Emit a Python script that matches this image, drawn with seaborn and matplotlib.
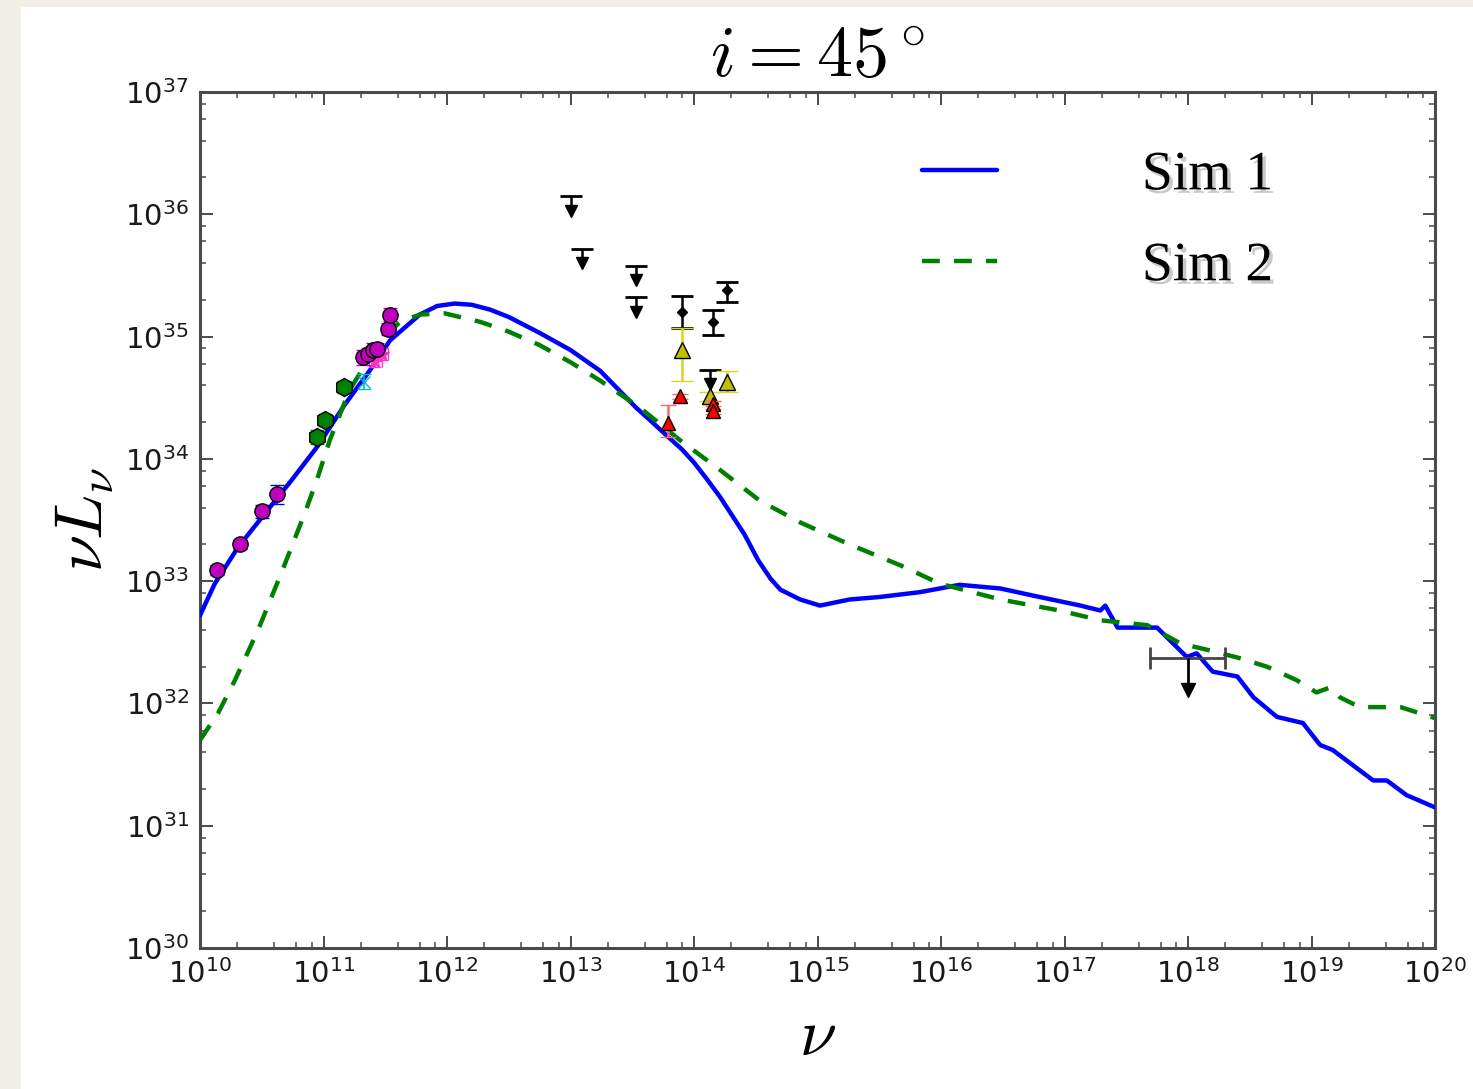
import numpy as np
import pandas as pd
import matplotlib
matplotlib.use("Agg")
import matplotlib.pyplot as plt
import matplotlib.patheffects as pe
from matplotlib.patches import Rectangle
from matplotlib.ticker import LogLocator, NullFormatter
import seaborn as sns

# ---------------- data (log10 values) ----------------
sim1_lognu = [10.0, 10.12, 10.31, 10.50, 10.745, 10.95, 11.17, 11.38, 11.54, 11.78,
              11.92, 12.06, 12.2, 12.35, 12.5, 12.75, 13.0, 13.24, 13.53, 13.64, 13.79,
              13.9, 14.0, 14.1, 14.21, 14.41, 14.52, 14.62, 14.7, 14.86,
              15.02, 15.26, 15.5, 15.83, 16.15, 16.48, 16.8, 17.13, 17.29, 17.33,
              17.43, 17.75, 17.99, 18.07, 18.20, 18.40, 18.53, 18.72, 18.93, 19.07,
              19.17, 19.50, 19.61, 19.77, 20.0]
sim1_logL = [32.72, 32.98, 33.28, 33.52, 33.83, 34.10, 34.44, 34.73, 34.97, 35.18,
             35.25, 35.27, 35.26, 35.22, 35.16, 35.03, 34.89, 34.72, 34.42, 34.32, 34.18,
             34.08, 33.97, 33.84, 33.69, 33.38, 33.17, 33.02, 32.93, 32.85,
             32.80, 32.85, 32.87, 32.91, 32.97, 32.94, 32.87, 32.80, 32.76, 32.80,
             32.62, 32.62, 32.38, 32.41, 32.26, 32.22, 32.05, 31.89, 31.84, 31.66,
             31.62, 31.37, 31.37, 31.25, 31.15]

sim2_lognu = [10.0, 10.146, 10.283, 10.47, 10.66, 10.85, 10.947, 11.05, 11.21, 11.46,
              11.62, 11.78, 11.98, 12.27, 12.5, 12.75, 13.0, 13.24, 13.56, 13.89, 14.21,
              14.53, 14.86, 15.26, 15.67, 15.99, 16.48, 16.96, 17.29, 17.67, 17.94,
              18.15, 18.42, 18.64, 18.88, 19.04, 19.15, 19.23, 19.39, 19.72, 20.0]
sim2_logL = [31.70, 31.92, 32.19, 32.60, 33.07, 33.56, 33.83, 34.15, 34.56, 34.97,
             35.12, 35.18, 35.19, 35.12, 35.04, 34.93, 34.79, 34.64, 34.42, 34.15, 33.91,
             33.66, 33.48, 33.30, 33.13, 32.98, 32.85, 32.76, 32.68, 32.64, 32.49,
             32.44, 32.37, 32.30, 32.19, 32.09, 32.13, 32.05, 31.97, 31.97, 31.88]

# radio (magenta circles)
radio_lognu = [10.14, 10.32, 10.50, 10.62]
radio_logL = [33.09, 33.30, 33.57, 33.71]
radio_dlog = [0.04, 0.04, 0.05, 0.08]
# mm (green circles)
mm_lognu = [10.95, 11.01, 11.17]
mm_logL = [34.18, 34.32, 34.59]
mm_dlog = [0.06, 0.05, 0.05]
# sub-mm (magenta cluster)
submm_lognu = [11.32, 11.36, 11.40, 11.43, 11.52, 11.54]
submm_logL = [34.83, 34.86, 34.89, 34.90, 35.06, 35.18]
submm_dlog = [0.06, 0.05, 0.06, 0.05, 0.05, 0.05]
# sub-mm stars (magenta)
star_lognu = [11.42, 11.47]
star_logL = [34.80, 34.86]
# cyan points
cyan_lognu = [11.33]
cyan_logL = [34.63]
# IR upper limits (black arrows)
ul_lognu = [13.0, 13.09, 13.53, 13.53, 14.13]
ul_logL = [36.15, 35.72, 35.58, 35.32, 34.73]
# NIR black diamonds
nir_lognu = [13.90, 14.15, 14.27]
nir_logL = [35.20, 35.12, 35.38]
nir_lo = [35.07, 35.01, 35.28]
nir_hi = [35.33, 35.22, 35.45]
# yellow triangles
yel_lognu = [13.90, 14.13, 14.27]
yel_logL = [34.89, 34.51, 34.63]
yel_lo = [34.64, 34.47, 34.55]
yel_hi = [35.07, 34.55, 34.72]
# red triangles
red_lognu = [13.79, 13.89, 14.15, 14.15]
red_logL = [34.29, 34.51, 34.45, 34.39]
red_lo = [34.18, 34.49, 34.43, 34.37]
red_hi = [34.44, 34.53, 34.47, 34.41]
# X-ray upper limit
xray_lognu = [18.0]
xray_lo_nu = [17.69]
xray_hi_nu = [18.30]
xray_logL = [32.37]

legend_labels = ["Sim 1", "Sim 2"]

# ---------------- style ----------------
sns.set_style("ticks")
plt.rcParams["font.family"] = ["DejaVu Sans"]
plt.rcParams["mathtext.fontset"] = "cm"
plt.rcParams["text.color"] = "black"

W, H = 1473, 1089
fig = plt.figure(figsize=(W / 100, H / 100), dpi=100)
fig.patch.set_facecolor("#f1eee8")
fig.add_artist(Rectangle((21 / W, 0), 1, 1 - 7 / H, transform=fig.transFigure,
                         facecolor="white", edgecolor="none", zorder=-10))
ax = fig.add_axes([200 / W, 1 - 948 / H, (1435 - 200) / W, (948 - 92) / H])
ax.set_facecolor("white")


def p10(a):
    return 10 ** np.asarray(a, dtype=float)


df1 = pd.DataFrame({"nu": p10(sim1_lognu), "L": p10(sim1_logL)})
df2 = pd.DataFrame({"nu": p10(sim2_lognu), "L": p10(sim2_logL)})
sns.lineplot(data=df1, x="nu", y="L", ax=ax, color="#0000ff", lw=3.2,
             label=legend_labels[0], estimator=None, sort=False, zorder=3)
sns.lineplot(data=df2, x="nu", y="L", ax=ax, color="#008000", lw=3.2,
             linestyle=(0, (4.0, 3.2)), label=legend_labels[1],
             estimator=None, sort=False, zorder=3)
ax.set_xscale("log")
ax.set_yscale("log")


def sym_err(logL, dlog):
    logL = np.asarray(logL); dlog = np.asarray(dlog)
    return [p10(logL) - p10(logL - dlog), p10(logL + dlog) - p10(logL)]


def asym_err(logL, lo, hi):
    return [p10(logL) - p10(lo), p10(hi) - p10(logL)]


# radio
ax.errorbar(p10(radio_lognu), p10(radio_logL), yerr=sym_err(radio_logL, radio_dlog),
            fmt="o", color="m", mec="k", mew=1, ms=11, ecolor="b", elinewidth=1.2,
            capsize=5, zorder=4)
# mm
ax.errorbar(p10(mm_lognu), p10(mm_logL), yerr=sym_err(mm_logL, mm_dlog),
            fmt="h", color="#008000", mec="k", mew=1, ms=13, ecolor="#008000",
            elinewidth=1.2, capsize=5, zorder=4)
# cyan
ax.errorbar(p10(cyan_lognu), p10(cyan_logL), yerr=sym_err(cyan_logL, [0.06]),
            fmt="x", color="c", ms=8, ecolor="c", elinewidth=1.2, capsize=5, zorder=4)
# sub-mm stars
ax.errorbar(p10(star_lognu), p10(star_logL), yerr=sym_err(star_logL, [0.05, 0.05]),
            xerr=[p10(star_lognu) - p10(np.array(star_lognu) - 0.05),
                  p10(np.array(star_lognu) + 0.05) - p10(star_lognu)],
            fmt="*", color="#ff33cc", ms=10, ecolor="#ff33cc", elinewidth=1.2,
            capsize=4, zorder=4)
# sub-mm circles
ax.errorbar(p10(submm_lognu), p10(submm_logL), yerr=sym_err(submm_logL, submm_dlog),
            fmt="o", color="m", mec="k", mew=1, ms=11, ecolor="m", elinewidth=1.2,
            capsize=5, zorder=4)

# IR upper limits (cap + stem + arrow head)
ul_x = p10(ul_lognu)
ul_top = p10(ul_logL)
ul_bot = p10(np.asarray(ul_logL) - 0.12)
ax.vlines(ul_x, ul_bot, ul_top, color="k", lw=1.8, zorder=4)
ax.plot(ul_x, ul_top, ls="none", marker="_", ms=16, mew=2, color="k", zorder=4)
ax.plot(ul_x, ul_bot, ls="none", marker="v", ms=9, color="k", zorder=4)

# NIR black diamonds
ax.errorbar(p10(nir_lognu), p10(nir_logL), yerr=asym_err(nir_logL, nir_lo, nir_hi),
            fmt="D", color="k", ms=5, ecolor="k", elinewidth=1.8, capsize=8,
            capthick=2, zorder=4)
# yellow triangles
ax.errorbar(p10(yel_lognu), p10(yel_logL), yerr=asym_err(yel_logL, yel_lo, yel_hi),
            fmt="^", color="#bfbf00", mec="k", mew=1, ms=11, ecolor="#d8d820",
            elinewidth=1.8, capsize=8, capthick=2, zorder=4)
# red triangles
ax.errorbar(p10(red_lognu), p10(red_logL), yerr=asym_err(red_logL, red_lo, red_hi),
            fmt="^", color="r", mec="k", mew=1, ms=10, ecolor="#ff6666",
            elinewidth=1.8, capsize=6, capthick=1.5, zorder=5)

# X-ray upper limit
xr_x = p10(xray_lognu)
xr_y = p10(xray_logL)
ax.errorbar(xr_x, xr_y, xerr=[xr_x - p10(xray_lo_nu), p10(xray_hi_nu) - xr_x],
            fmt="none", ecolor="#444444", elinewidth=2, capsize=8, capthick=2, zorder=4)
xr_bot = p10(np.asarray(xray_logL) - 0.26)
ax.vlines(xr_x, xr_bot, xr_y, color="k", lw=2, zorder=4)
ax.plot(xr_x, xr_bot, ls="none", marker="v", ms=10, color="k", zorder=4)

# ---------------- axes formatting ----------------
ax.set_xlim(1e10, 1e20)
ax.set_ylim(1e30, 1e37)
ax.xaxis.set_major_locator(LogLocator(base=10, numticks=20))
ax.yaxis.set_major_locator(LogLocator(base=10, numticks=20))
ax.xaxis.set_minor_locator(LogLocator(base=10, subs=(2, 4, 6, 8), numticks=100))
ax.yaxis.set_minor_locator(LogLocator(base=10, subs=(2, 4, 6, 8), numticks=100))
ax.xaxis.set_minor_formatter(NullFormatter())
ax.yaxis.set_minor_formatter(NullFormatter())

for s in ax.spines.values():
    s.set_color("#4a4a4a")
    s.set_linewidth(2.2)
ax.tick_params(which="both", direction="in", top=True, right=True, color="#4a4a4a")
ax.tick_params(which="major", length=9, width=1.4, labelsize=21, labelcolor="#1a1a1a")
ax.tick_params(which="minor", length=4.5, width=1.1)
ax.tick_params(axis="x", which="major", pad=8)
ax.tick_params(axis="y", which="major", pad=8)

ax.set_title(r"$i=45^\circ$", fontsize=52, pad=6, color="black")
ax.set_xlabel(r"$\nu$", fontsize=48, labelpad=10, color="black")
ax.set_ylabel(r"$\nu L_\nu$", fontsize=48, labelpad=6, color="black")

leg = ax.legend(loc="upper left", bbox_to_anchor=(0.585, 0.933), frameon=False,
                prop={"family": "Liberation Serif", "size": 40},
                handlelength=1.35, handletextpad=2.6, labelspacing=0.7,
                borderpad=0, borderaxespad=0)
for t in leg.get_texts():
    t.set_color("black")
    t.set_path_effects([pe.withSimplePatchShadow(offset=(2.5, -2.5),
                                                 shadow_rgbFace="#888888", alpha=0.45)])

fig.savefig("out.png", dpi=100, facecolor=fig.get_facecolor())
